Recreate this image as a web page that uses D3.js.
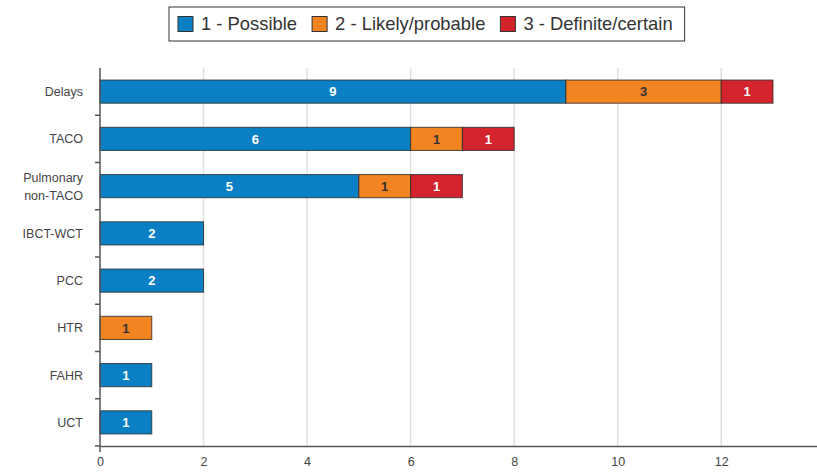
<!DOCTYPE html>
<html><head><meta charset="utf-8">
<script src="https://cdn.jsdelivr.net/npm/d3@7"></script>
<style>body{margin:0;background:#fff}svg{display:block;font-family:"Liberation Sans",Arial,sans-serif}</style>
</head><body><svg id="c" width="817" height="472"></svg>
<script>
const categories = ["Delays","TACO","Pulmonary non-TACO","IBCT-WCT","PCC","HTR","FAHR","UCT"];
const categoryLines = [["Delays"],["TACO"],["Pulmonary","non-TACO"],["IBCT-WCT"],["PCC"],["HTR"],["FAHR"],["UCT"]];
const seriesNames = ["1 - Possible","2 - Likely/probable","3 - Definite/certain"];
const possible = [9,6,5,2,2,0,1,1];
const likely   = [3,1,1,0,0,1,0,0];
const definite = [1,1,1,0,0,0,0,0];
const xTicks = [0,2,4,6,8,10,12];
const colors = ["#0a7fc3","#f28522","#d3232c"];
const labelColors = ["#fff","#333","#fff"];

const svg = d3.select("#c");
const m = {left:100, top:68, bottom:446};
const x = d3.scaleLinear().domain([0,13.85]).range([m.left,817]);
const y = d3.scaleBand().domain(categories).range([m.top,m.bottom]).paddingInner(0.51).paddingOuter(0.255);

// grid
svg.append("g").selectAll("line").data(xTicks.filter(d=>d>0)).join("line")
  .attr("x1",d=>x(d)).attr("x2",d=>x(d)).attr("y1",m.top).attr("y2",m.bottom)
  .attr("stroke","#e0e0e0").attr("stroke-width",1.5);

// stacked bars
const table = categories.map((c,i)=>({cat:c, s0:possible[i], s1:likely[i], s2:definite[i]}));
const stack = d3.stack().keys(["s0","s1","s2"])(table);
const gBars = svg.append("g");
stack.forEach((layer,k)=>{
  const g = gBars.append("g");
  layer.forEach(d=>{
    const v = d[1]-d[0];
    if(v<=0) return;
    g.append("rect").attr("x",x(d[0])).attr("width",x(d[1])-x(d[0]))
      .attr("y",y(d.data.cat)).attr("height",y.bandwidth())
      .attr("fill",colors[k]).attr("stroke","#2f2f2f").attr("stroke-opacity",0.85).attr("stroke-width",1);
    g.append("text").attr("x",(x(d[0])+x(d[1]))/2).attr("y",y(d.data.cat)+y.bandwidth()/2)
      .attr("dy","0.36em").attr("text-anchor","middle").attr("font-size",13).attr("font-weight","bold")
      .attr("fill",labelColors[k]).text(v);
  });
});

// x axis
const xa = svg.append("g").attr("transform",`translate(0,${m.bottom})`)
  .call(d3.axisBottom(x).tickValues(xTicks).tickSize(0).tickPadding(11).tickFormat(d3.format("d")));
xa.select(".domain").attr("stroke","#555").attr("stroke-width",1.5);
xa.selectAll("text").attr("font-size",12.5).attr("fill","#444").attr("font-family","Liberation Sans, Arial, sans-serif");

// y axis
svg.append("line").attr("x1",m.left).attr("x2",m.left).attr("y1",m.top).attr("y2",m.bottom+6)
  .attr("stroke","#555").attr("stroke-width",1.5);
const step = y.step();
svg.append("g").selectAll("line").data(categories).join("line")
  .attr("x1",m.left-5).attr("x2",m.left)
  .attr("y1",d=>y(d)-y.paddingOuter()*step+step).attr("y2",d=>y(d)-y.paddingOuter()*step+step)
  .attr("stroke","#555").attr("stroke-width",1.5);
const yl = svg.append("g");
categories.forEach((c,i)=>{
  const lines = categoryLines[i];
  const cy = y(c)+y.bandwidth()/2;
  const lh = 18;
  const t = yl.append("text").attr("text-anchor","end").attr("font-size",12.5).attr("fill","#444");
  lines.forEach((ln,j)=>{
    t.append("tspan").attr("x",m.left-17).attr("y",cy+(j-(lines.length-1)/2)*lh).attr("dy","0.35em").text(ln);
  });
});

// legend
const lg = svg.append("g");
const box = lg.append("rect").attr("y",7).attr("height",34).attr("fill","#fff").attr("stroke","#333").attr("stroke-width",1);
let cx = 178;
seriesNames.forEach((n,k)=>{
  lg.append("rect").attr("x",cx).attr("y",16.5).attr("width",15).attr("height",15)
    .attr("fill",colors[k]).attr("stroke","#333").attr("stroke-width",1);
  const t = lg.append("text").attr("x",cx+23).attr("y",24).attr("dy","0.35em").attr("font-size",18.4).attr("fill","#333").text(n);
  cx += 23 + t.node().getComputedTextLength() + 15;
});
box.attr("x",169).attr("width",cx-15+12-169);
</script></body></html>
